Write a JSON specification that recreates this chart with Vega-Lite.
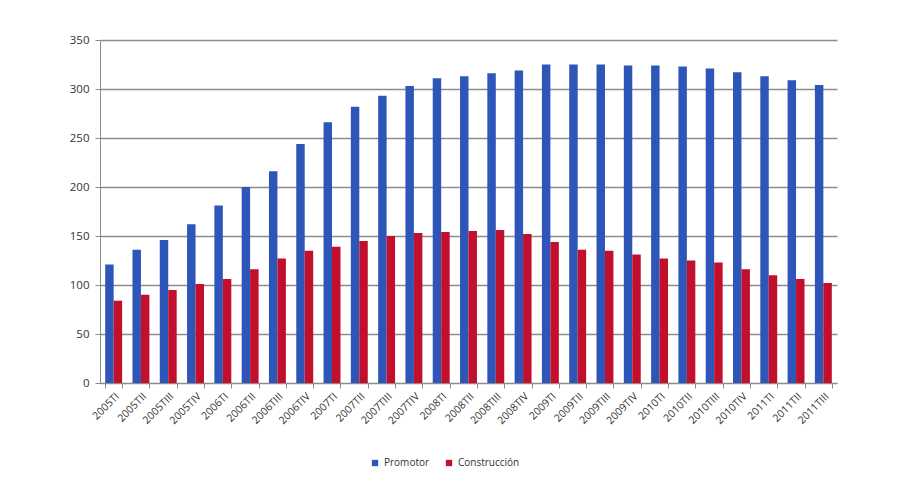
{
  "$schema": "https://vega.github.io/schema/vega-lite/v6.json",
  "width": 737,
  "height": 343,
  "autosize": {"type": "none"},
  "padding": {"left": 100, "top": 40, "right": 60, "bottom": 99},
  "background": "white",
  "config": {
    "view": {"stroke": null},
    "font": "Open Sans",
    "axis": {"labelColor": "#333333", "labelFontSize": 11, "domainColor": "#8c8c8c", "tickColor": "#8c8c8c"}
  },
  "data": {
    "values": [
      {"t": "2005TI", "s": "Promotor", "v": 121}, {"t": "2005TI", "s": "Construcción", "v": 84},
      {"t": "2005TII", "s": "Promotor", "v": 136}, {"t": "2005TII", "s": "Construcción", "v": 90},
      {"t": "2005TIII", "s": "Promotor", "v": 146}, {"t": "2005TIII", "s": "Construcción", "v": 95},
      {"t": "2005TIV", "s": "Promotor", "v": 162}, {"t": "2005TIV", "s": "Construcción", "v": 101},
      {"t": "2006TI", "s": "Promotor", "v": 181}, {"t": "2006TI", "s": "Construcción", "v": 106},
      {"t": "2006TII", "s": "Promotor", "v": 200}, {"t": "2006TII", "s": "Construcción", "v": 116},
      {"t": "2006TIII", "s": "Promotor", "v": 216}, {"t": "2006TIII", "s": "Construcción", "v": 127},
      {"t": "2006TIV", "s": "Promotor", "v": 244}, {"t": "2006TIV", "s": "Construcción", "v": 135},
      {"t": "2007TI", "s": "Promotor", "v": 266}, {"t": "2007TI", "s": "Construcción", "v": 139},
      {"t": "2007TII", "s": "Promotor", "v": 282}, {"t": "2007TII", "s": "Construcción", "v": 145},
      {"t": "2007TIII", "s": "Promotor", "v": 293}, {"t": "2007TIII", "s": "Construcción", "v": 150},
      {"t": "2007TIV", "s": "Promotor", "v": 303}, {"t": "2007TIV", "s": "Construcción", "v": 153},
      {"t": "2008TI", "s": "Promotor", "v": 311}, {"t": "2008TI", "s": "Construcción", "v": 154},
      {"t": "2008TII", "s": "Promotor", "v": 313}, {"t": "2008TII", "s": "Construcción", "v": 155},
      {"t": "2008TIII", "s": "Promotor", "v": 316}, {"t": "2008TIII", "s": "Construcción", "v": 156},
      {"t": "2008TIV", "s": "Promotor", "v": 319}, {"t": "2008TIV", "s": "Construcción", "v": 152},
      {"t": "2009TI", "s": "Promotor", "v": 325}, {"t": "2009TI", "s": "Construcción", "v": 144},
      {"t": "2009TII", "s": "Promotor", "v": 325}, {"t": "2009TII", "s": "Construcción", "v": 136},
      {"t": "2009TIII", "s": "Promotor", "v": 325}, {"t": "2009TIII", "s": "Construcción", "v": 135},
      {"t": "2009TIV", "s": "Promotor", "v": 324}, {"t": "2009TIV", "s": "Construcción", "v": 131},
      {"t": "2010TI", "s": "Promotor", "v": 324}, {"t": "2010TI", "s": "Construcción", "v": 127},
      {"t": "2010TII", "s": "Promotor", "v": 323}, {"t": "2010TII", "s": "Construcción", "v": 125},
      {"t": "2010TIII", "s": "Promotor", "v": 321}, {"t": "2010TIII", "s": "Construcción", "v": 123},
      {"t": "2010TIV", "s": "Promotor", "v": 317}, {"t": "2010TIV", "s": "Construcción", "v": 116},
      {"t": "2011TI", "s": "Promotor", "v": 313}, {"t": "2011TI", "s": "Construcción", "v": 110},
      {"t": "2011TII", "s": "Promotor", "v": 309}, {"t": "2011TII", "s": "Construcción", "v": 106},
      {"t": "2011TIII", "s": "Promotor", "v": 304}, {"t": "2011TIII", "s": "Construcción", "v": 102}
    ]
  },
  "mark": {"type": "bar"},
  "encoding": {
    "x": {
      "field": "t", "type": "nominal", "sort": null, "title": null,
      "scale": {"paddingInner": 0.38, "paddingOuter": 0.19},
      "axis": {"labelAngle": -45, "labelFontSize": 10.5, "tickBand": "extent", "tickSize": 5, "grid": false, "labelPadding": 3}
    },
    "xOffset": {"field": "s", "type": "nominal", "sort": ["Promotor", "Construcción"], "scale": {"paddingInner": 0}},
    "y": {
      "field": "v", "type": "quantitative", "title": null,
      "scale": {"domain": [0, 350]},
      "axis": {"values": [0, 50, 100, 150, 200, 250, 300, 350], "gridColor": "#8c8c8c", "gridWidth": 1.3, "tickSize": 5, "labelPadding": 6, "labelFontSize": 11.5, "domain": true}
    },
    "color": {
      "field": "s", "type": "nominal", "sort": ["Promotor", "Construcción"],
      "scale": {"domain": ["Promotor", "Construcción"], "range": ["#2d56b8", "#c2102c"]},
      "legend": {"title": null, "orient": "none", "legendX": 270, "legendY": 418, "direction": "horizontal", "symbolType": "square", "symbolSize": 40, "labelFontSize": 10, "labelColor": "#333333", "columnPadding": 14}
    }
  }
}
